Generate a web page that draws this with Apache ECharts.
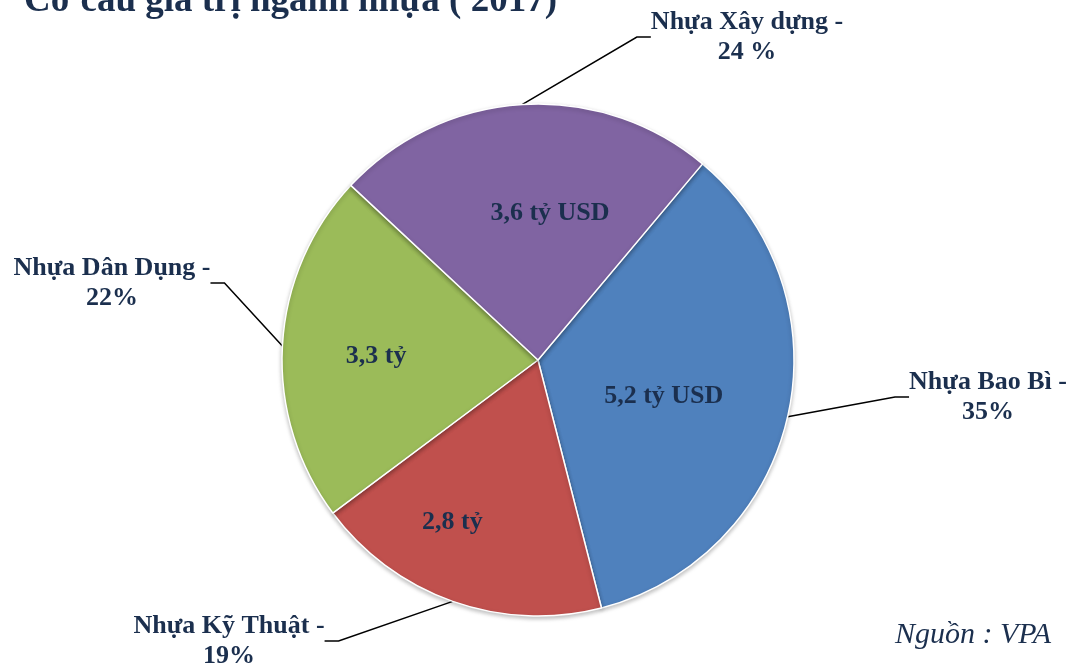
<!DOCTYPE html>
<html>
<head>
<meta charset="utf-8">
<script src="https://cdn.jsdelivr.net/npm/echarts@6/dist/echarts.min.js"></script>
<style>
  html, body { margin: 0; padding: 0; background: #fff; }
  #main { width: 1077px; height: 668px; }
</style>
</head>
<body>
<div id="main"></div>
<script>
// du lieu co cau gia tri nganh nhua 2017
var names = ['Nhựa Bao Bì', 'Nhựa Kỹ Thuật', 'Nhựa Dân Dụng', 'Nhựa Xây dựng'];
var values = [5.2, 2.8, 3.3, 3.6];
var innerTexts = ['5,2 tỷ USD', '2,8 tỷ', '3,3 tỷ', '3,6 tỷ USD'];
var outerTexts = ['Nhựa Bao Bì -\n35%', 'Nhựa Kỹ Thuật -\n19%', 'Nhựa Dân Dụng -\n22%', 'Nhựa Xây dựng -\n24 %'];
var colors = ['#4F81BD', '#C0504D', '#9BBB59', '#8064A2'];

// vi tri nhan (layout)
var innerShift = [[-2, 7], [-42, 39], [-31, 3], [20, -16]];
var outerPos = [[988, 397], [229, 641], [112, 283], [747, 37]];

var navy = '#1B2F4E';
var serif = '"Liberation Serif", "Times New Roman", serif';

var pieData = names.map(function (n, i) {
  return { name: n, value: values[i], itemStyle: { color: colors[i] } };
});

var chart = echarts.init(document.getElementById('main'));
chart.setOption({
  animation: false,
  title: {
    text: 'Cơ cấu giá trị ngành nhựa ( 2017)',
    left: 19,
    top: -22,
    textStyle: { fontFamily: serif, fontSize: 37, fontWeight: 'bold', color: navy }
  },
  graphic: [{
    type: 'text',
    right: 26,
    top: 620,
    style: { text: 'Nguồn : VPA', font: 'italic 30px ' + serif, fill: navy }
  }],
  series: [{
    type: 'pie',
    center: [538, 360],
    radius: 256,
    startAngle: 50,
    clockwise: true,
    data: pieData,
    itemStyle: { borderColor: '#fff', borderWidth: 1.5, shadowBlur: 4, shadowColor: 'rgba(0,0,0,0.25)', shadowOffsetY: 2 },
    label: {
      position: 'inside',
      formatter: function (p) { return innerTexts[p.dataIndex]; },
      fontFamily: serif, fontSize: 26, fontWeight: 'bold', color: navy
    },
    labelLayout: function (p) {
      return { dx: innerShift[p.dataIndex][0], dy: innerShift[p.dataIndex][1] };
    },
    emphasis: { disabled: true }
  }, {
    type: 'pie',
    center: [538, 360],
    radius: 256,
    startAngle: 50,
    clockwise: true,
    silent: true,
    data: pieData.map(function (d) { return { name: d.name, value: d.value }; }),
    itemStyle: { color: 'rgba(0,0,0,0)' },
    label: {
      position: 'outside',
      formatter: function (p) { return outerTexts[p.dataIndex]; },
      fontFamily: serif, fontSize: 26, fontWeight: 'bold', color: navy,
      lineHeight: 30, align: 'center'
    },
    labelLine: { show: true, length: 20, length2: 14, lineStyle: { color: '#000', width: 1.5 } },
    labelLayout: function (p) {
      var q = outerPos[p.dataIndex];
      return { x: q[0], y: q[1], align: 'center', verticalAlign: 'middle' };
    }
  }]
});
</script>
</body>
</html>
